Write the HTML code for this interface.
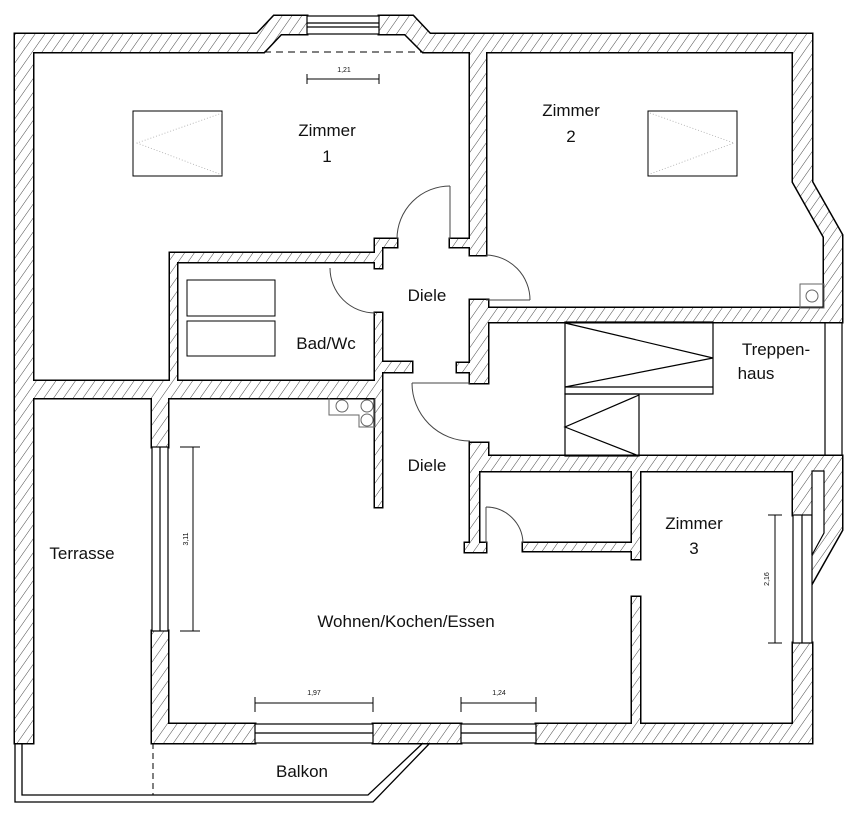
<!DOCTYPE html>
<html><head><meta charset="utf-8"><style>
html,body{margin:0;padding:0;background:#fff}
svg{display:block}
text{font-family:"Liberation Sans",sans-serif;fill:#111}
</style></head><body>
<svg width="860" height="813" viewBox="0 0 860 813" xmlns="http://www.w3.org/2000/svg">
<defs>
<pattern id="h" width="8" height="8" patternUnits="userSpaceOnUse" patternTransform="rotate(35)">
<rect width="8" height="8" fill="#fff"/><line x1="0" y1="0" x2="0" y2="8" stroke="#333" stroke-width="0.9"/>
</pattern>
<g id="walls">
<polygon points="15,34 257,34 274,16 307,16 307,34 281,34 264,52 15,52"/>
<polygon points="379,16 413,16 430,34 812,34 812,52 423,52 405,34 379,34"/>
<rect x="15" y="34" width="18" height="709"/>
<rect x="470" y="52" width="16" height="203"/>
<rect x="450" y="239" width="22" height="8"/>
<polygon points="793,34 812,34 812,182 842,235 842,322 824,322 824,237 793,182"/>
<rect x="486" y="308" width="356" height="14"/>
<rect x="470" y="300" width="18" height="83"/>
<rect x="457" y="363" width="15" height="9"/>
<rect x="470" y="456" width="372" height="15"/>
<rect x="470" y="443" width="18" height="28"/>
<rect x="470" y="471" width="9" height="74"/>
<rect x="465" y="543" width="21" height="9"/>
<rect x="523" y="543" width="117" height="8"/>
<rect x="632" y="471" width="8" height="88"/>
<rect x="632" y="597" width="8" height="130"/>
<rect x="152" y="724" width="103" height="19"/>
<rect x="373" y="724" width="88" height="19"/>
<rect x="536" y="724" width="276" height="19"/>
<rect x="152" y="631" width="16" height="112"/>
<rect x="152" y="390" width="16" height="57"/>
<rect x="793" y="471" width="19" height="44"/>
<rect x="793" y="643" width="19" height="100"/>
<polygon points="812,456 842,456 842,530 812,583"/>
<rect x="33" y="381" width="349" height="17"/>
<rect x="170" y="253" width="7" height="130"/>
<rect x="170" y="253" width="212" height="9"/>
<polygon points="375,239 397,239 397,247 382,247 382,268 375,268"/>
<rect x="375" y="313" width="7" height="194"/>
<rect x="375" y="362" width="37" height="10"/>
</g>
</defs>
<use href="#walls" fill="none" stroke="#000" stroke-width="3"/>
<use href="#walls" fill="url(#h)" stroke="none"/>

<!-- windows -->
<g fill="#fff" stroke="#000" stroke-width="1.2">
<rect x="307" y="16" width="72" height="18"/><line x1="307" y1="23" x2="379" y2="23"/><line x1="307" y1="27" x2="379" y2="27"/>
<rect x="255" y="724" width="118" height="19"/><line x1="255" y1="733" x2="373" y2="733"/>
<rect x="461" y="724" width="75" height="19"/><line x1="461" y1="733" x2="536" y2="733"/>
<rect x="152" y="447" width="16" height="184"/><line x1="160" y1="447" x2="160" y2="631"/>
<rect x="793" y="515" width="19" height="128"/><line x1="802" y1="515" x2="802" y2="643"/>
<polygon points="812,471 824,471 824,533 812,555"/>
</g>
<line x1="264" y1="52" x2="423" y2="52" stroke="#000" stroke-width="1" stroke-dasharray="7,5"/>

<!-- stairs -->
<g fill="none" stroke="#000" stroke-width="1.2">
<line x1="825" y1="322" x2="825" y2="456"/><line x1="842" y1="322" x2="842" y2="456"/>
<rect x="565" y="322" width="148" height="72"/><line x1="565" y1="387" x2="713" y2="387"/>
<polyline points="565,323 713,358 565,387"/>
<rect x="565" y="394" width="74" height="62"/>
<polyline points="639,395 565,427 639,456"/>
</g>

<!-- Balkon -->
<g fill="none" stroke="#000" stroke-width="1.3">
<path d="M15,743 V802 H373 L430,743"/>
<path d="M22,743 V795 H368 L423,743"/>
</g>
<line x1="153" y1="743" x2="153" y2="795" stroke="#000" stroke-width="1" stroke-dasharray="6,4"/>

<!-- doors -->
<g fill="none" stroke="#444" stroke-width="1">
<line x1="450" y1="186" x2="450" y2="239"/><path d="M397,239 A53,53 0 0 1 450,186"/>
<path d="M330,268 A45,45 0 0 0 375,313"/>
<line x1="486" y1="300" x2="530" y2="300"/><path d="M486,255 A45,45 0 0 1 530,300"/>
<line x1="412" y1="383" x2="470" y2="383"/><path d="M412,383 A58,58 0 0 0 470,441"/>
<line x1="486" y1="507" x2="486" y2="543"/><path d="M486,507 A37,37 0 0 1 523,543"/>
</g>

<!-- furniture -->
<g fill="none" stroke="#000" stroke-width="1">
<rect x="133" y="111" width="89" height="65"/>
<rect x="648" y="111" width="89" height="65"/>
<rect x="187" y="280" width="88" height="36"/>
<rect x="187" y="321" width="88" height="35"/>
</g>
<g fill="none" stroke="#aaa" stroke-width="0.8" stroke-dasharray="1,2">
<polyline points="222,113 137,143 222,175"/>
<polyline points="650,113 734,143 650,174"/>
</g>
<g fill="none" stroke="#666" stroke-width="1">
<rect x="800" y="284" width="24" height="24"/><circle cx="812" cy="296" r="6"/>
<path d="M329,398 V415 H359 V427 H375 V398"/>
<circle cx="342" cy="406" r="6"/><circle cx="367" cy="406" r="6"/><circle cx="367" cy="420" r="6"/>
</g>

<!-- dimensions -->
<g stroke="#000" stroke-width="1" fill="none">
<line x1="307" y1="79" x2="379" y2="79"/><line x1="307" y1="74" x2="307" y2="84"/><line x1="379" y1="74" x2="379" y2="84"/>
<line x1="255" y1="703" x2="373" y2="703"/><line x1="255" y1="697" x2="255" y2="712"/><line x1="373" y1="697" x2="373" y2="712"/>
<line x1="461" y1="703" x2="536" y2="703"/><line x1="461" y1="697" x2="461" y2="712"/><line x1="536" y1="697" x2="536" y2="712"/>
<line x1="193" y1="447" x2="193" y2="631"/><line x1="180" y1="447" x2="200" y2="447"/><line x1="180" y1="631" x2="200" y2="631"/>
<line x1="775" y1="515" x2="775" y2="643"/><line x1="768" y1="515" x2="782" y2="515"/><line x1="768" y1="643" x2="782" y2="643"/>
</g>
<g font-size="7" text-anchor="middle">
<text x="344" y="72">1,21</text>
<text x="314" y="695">1,97</text>
<text x="499" y="695">1,24</text>
<text transform="translate(188,539) rotate(-90)" text-anchor="middle">3,11</text>
<text transform="translate(769,579) rotate(-90)" text-anchor="middle">2,16</text>
</g>

<!-- labels -->
<g font-size="17" text-anchor="middle">
<text x="327" y="136">Zimmer</text><text x="327" y="162">1</text>
<text x="571" y="116">Zimmer</text><text x="571" y="142">2</text>
<text x="427" y="301">Diele</text>
<text x="326" y="349">Bad/Wc</text>
<text x="776" y="355">Treppen-</text><text x="756" y="379">haus</text>
<text x="427" y="471">Diele</text>
<text x="694" y="529">Zimmer</text><text x="694" y="554">3</text>
<text x="82" y="559">Terrasse</text>
<text x="406" y="627">Wohnen/Kochen/Essen</text>
<text x="302" y="777">Balkon</text>
</g>
</svg>
</body></html>
